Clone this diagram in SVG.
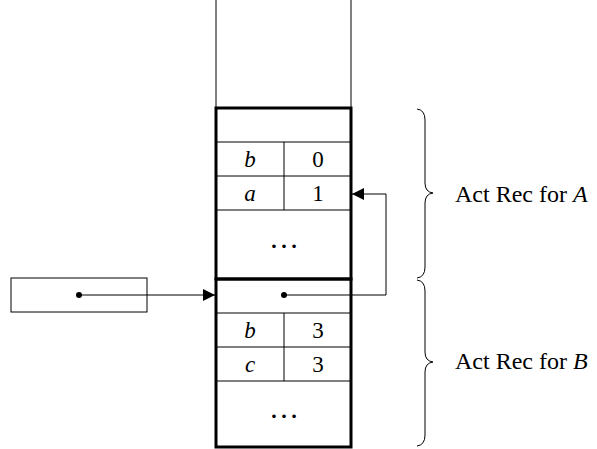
<svg xmlns="http://www.w3.org/2000/svg" width="597" height="449" viewBox="0 0 597 449">
<style>
.thin{fill:none;stroke:#000;stroke-width:1}
.thick{fill:none;stroke:#000;stroke-width:3}
.t{font-family:"Liberation Serif",serif;font-size:23px;fill:#000;text-anchor:middle}
.ti{font-family:"Liberation Serif",serif;font-size:23px;font-style:italic;fill:#000;text-anchor:middle}
.dots{font-family:"Liberation Serif",serif;font-size:30px;fill:#000;text-anchor:middle}
.lbl{font-family:"Liberation Serif",serif;font-size:24px;fill:#000}
</style>
<defs>
<marker id="ah" viewBox="0 0 10 10" refX="10" refY="5" markerWidth="14" markerHeight="12" markerUnits="userSpaceOnUse" orient="auto">
<path d="M0,0 L10,5 L0,10 z" fill="#000"/>
</marker>
</defs>
<rect width="597" height="449" fill="#fff"/>
<g id="stack-top">
<line class="thin" x1="216" y1="0" x2="216" y2="108"/>
<line class="thin" x1="351" y1="0" x2="351" y2="108"/>
</g>
<g id="actrec-A">
<line class="thin" x1="216" y1="142" x2="351" y2="142"/>
<line class="thin" x1="216" y1="176" x2="351" y2="176"/>
<line class="thin" x1="216" y1="210" x2="351" y2="210"/>
<line class="thin" x1="284" y1="142" x2="284" y2="210"/>
<text class="ti" x="250" y="167">b</text>
<text class="t" x="318" y="167">0</text>
<text class="ti" x="250" y="201">a</text>
<text class="t" x="318" y="201">1</text>
<text class="dots" x="284" y="248">…</text>
<rect class="thick" x="216" y="108" width="135" height="171"/>
</g>
<g id="actrec-B">
<line class="thin" x1="216" y1="313" x2="351" y2="313"/>
<line class="thin" x1="216" y1="347" x2="351" y2="347"/>
<line class="thin" x1="216" y1="381" x2="351" y2="381"/>
<line class="thin" x1="284" y1="313" x2="284" y2="381"/>
<text class="ti" x="250" y="338">b</text>
<text class="t" x="318" y="338">3</text>
<text class="ti" x="250" y="372">c</text>
<text class="t" x="318" y="372">3</text>
<text class="dots" x="284" y="418">…</text>
<rect class="thick" x="216" y="279" width="135" height="168"/>
<circle cx="284" cy="295" r="3" fill="#000"/>
</g>
<g id="pointer">
<rect class="thin" x="11" y="278" width="136" height="34"/>
<circle cx="79" cy="295" r="3" fill="#000"/>
</g>
<g id="connectors">
<line class="thin" x1="79" y1="295" x2="215" y2="295" marker-end="url(#ah)"/>
<polyline class="thin" points="284,295 386,295 386,194 352,194" marker-end="url(#ah)"/>
</g>
<g id="brace-A">
<path class="thin" d="M417,109 Q425,110 425,120 L425,183 Q425,192 433,193 Q425,194 425,203 L425,267 Q425,277 417,278"/>
<text class="lbl" x="455" y="202">Act Rec for <tspan font-style="italic">A</tspan></text>
</g>
<g id="brace-B">
<path class="thin" d="M417,280 Q425,281 425,291 L425,352 Q425,361 433,362 Q425,363 425,372 L425,435 Q425,445 417,446"/>
<text class="lbl" x="455" y="369">Act Rec for <tspan font-style="italic">B</tspan></text>
</g>
</svg>
